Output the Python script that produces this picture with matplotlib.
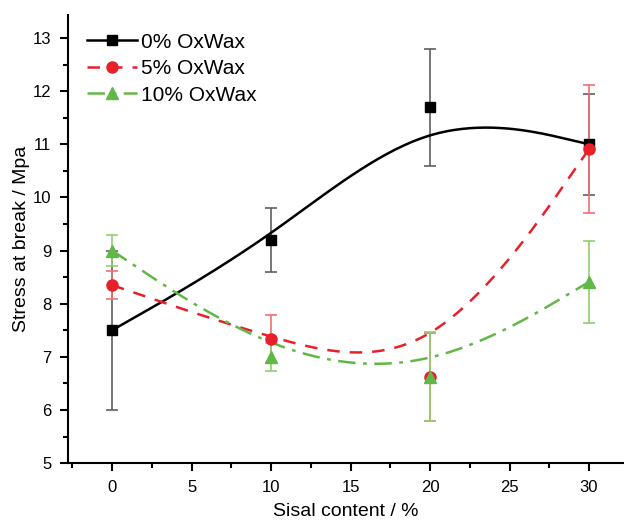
import matplotlib
matplotlib.use("Agg")
import matplotlib.pyplot as plt
import numpy as np

plt.rcParams['font.family'] = ['Liberation Sans', 'DejaVu Sans']

# Sisal content (%)
sisal = [0, 10, 20, 30]

# stress at break (MPa) and error bars
ox0 = [7.5, 9.2, 11.7, 11.0]
ox0_err = [1.5, 0.6, 1.1, 0.95]
ox5 = [8.35, 7.33, 6.62, 10.91]
ox5_err = [0.27, 0.45, 0.83, 1.2]
ox10 = [9.0, 7.0, 6.63, 8.41]
ox10_err = [0.29, 0.27, 0.84, 0.77]

labels = ['0% OxWax', '5% OxWax', '10% OxWax']


def bspline(xs, ys, n=60):
    # uniform cubic B-spline, end points repeated so it starts/ends on the data
    P = np.column_stack([xs, ys]).astype(float)
    Q = np.vstack([P[0], P[0], P, P[-1], P[-1]])
    t = np.linspace(0, 1, n)
    b = np.array([(1 - t) ** 3,
                  3 * t ** 3 - 6 * t ** 2 + 4,
                  -3 * t ** 3 + 3 * t ** 2 + 3 * t + 1,
                  t ** 3]) / 6
    segs = [b.T @ Q[i:i + 4] for i in range(len(Q) - 3)]
    out = np.vstack(segs)
    return out[:, 0], out[:, 1]


fig = plt.figure(figsize=(6.24, 5.21), dpi=100)
ax = fig.add_axes([0.109, 0.111, 0.891, 0.86])

styles = [
    (ox0, ox0_err, 'black', '#606060', 's', '-', 7),
    (ox5, ox5_err, '#e8202a', '#f07070', 'o', (0, (5, 4)), 8),
    (ox10, ox10_err, '#62b846', '#8fd070', '^', (0, (7, 3, 1.5, 3)), 8),
]

for z, ((y, e, c, ec, m, ls, ms), lab) in enumerate(zip(styles, labels)):
    ax.errorbar(sisal, y, yerr=e, fmt='none', ecolor=ec, elinewidth=1.2,
                capsize=4.5, capthick=1.2, zorder=2 + z)
    sx, sy = bspline(sisal, y)
    ax.plot(sx, sy, color=c, ls=ls, lw=1.8, zorder=2 + z)
    ax.plot(sisal, y, ls='none', marker=m, color=c, ms=ms, zorder=5 + z)
    ax.plot([], [], color=c, ls=ls, lw=1.8, marker=m, ms=ms, label=lab)

ax.set_xlim(-2.77, 32.2)
ax.set_ylim(5, 13.43)
ax.set_xticks([0, 5, 10, 15, 20, 25, 30])
ax.set_xticks(np.arange(-2.5, 32.5, 2.5), minor=True)
ax.set_yticks(range(5, 14))
ax.set_yticks(np.arange(5, 13.5, 0.5), minor=True)

for s in ['top', 'right']:
    ax.spines[s].set_visible(False)
for s in ['left', 'bottom']:
    ax.spines[s].set_linewidth(1.5)

ax.tick_params(which='major', direction='out', length=6, width=1.5, labelsize=12, pad=6)
ax.tick_params(which='minor', direction='out', length=3.5, width=1.5)

ax.set_xlabel('Sisal content / %', fontsize=14, labelpad=6)
ax.set_ylabel('Stress at break / Mpa', fontsize=14, labelpad=2)

ax.legend(loc='upper left', frameon=False, fontsize=15, handlelength=2.4,
          handletextpad=0.2, labelspacing=0.36, borderaxespad=0.5,
          bbox_to_anchor=(0.0, 1.003))

fig.savefig('out.png', dpi=100)
